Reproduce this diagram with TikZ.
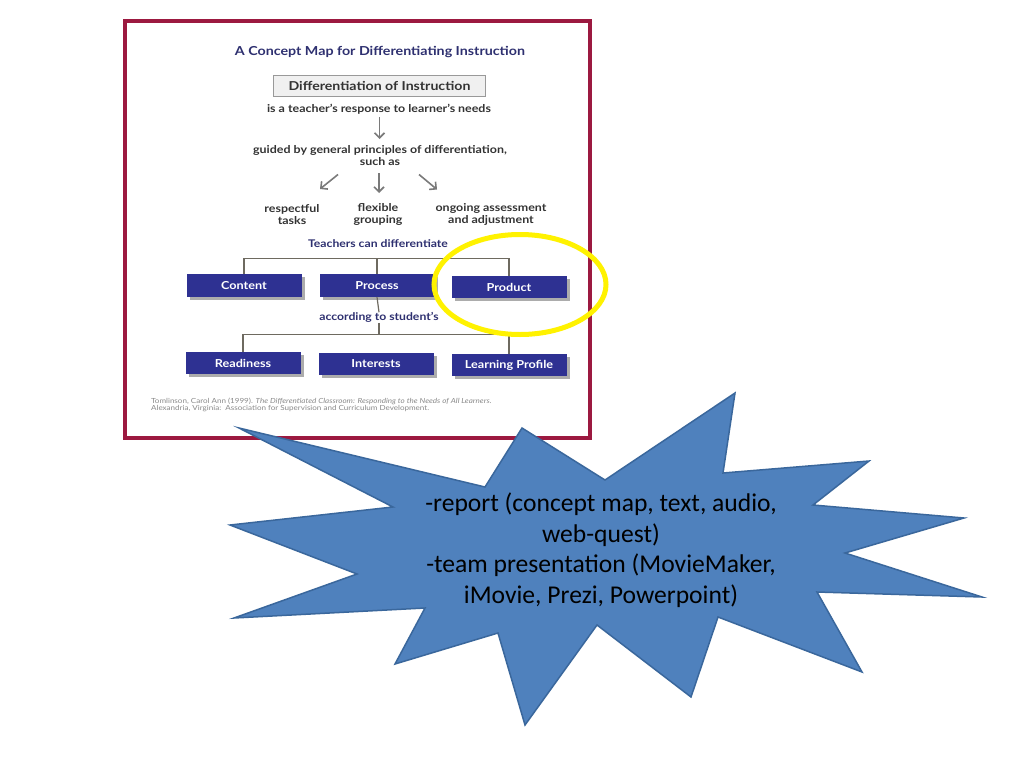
\documentclass[tikz,border=0pt]{standalone}
\usepackage{fontspec}
\setmainfont{Carlito}
\newfontfamily\gill[FakeStretch=1.15]{Lato}
\usetikzlibrary{arrows.meta,shadows}
\definecolor{framecol}{HTML}{9C1940}
\definecolor{navy}{HTML}{2E3192}
\definecolor{titlecol}{HTML}{2E3070}
\definecolor{burst}{HTML}{4F81BD}
\definecolor{burstline}{HTML}{3A679C}
\definecolor{tgray}{HTML}{333333}
\definecolor{treecol}{HTML}{6E6A60}
\definecolor{arrcol}{HTML}{7A7A7A}
\definecolor{citecol}{HTML}{8A8A8A}
\tikzset{
  maptext/.style={inner sep=0, text=tgray, font=\gill\bfseries\fontsize{10.8}{12}\selectfont, align=center},
  navytext/.style={inner sep=0, text=titlecol, font=\gill\bfseries\fontsize{10.6}{12}\selectfont, align=center},
  bluebox/.style={fill=navy, text=white, font=\gill\bfseries\fontsize{11}{12}\selectfont,
    minimum width=115, minimum height=22.5, inner sep=0,
    drop shadow={shadow xshift=3.5pt, shadow yshift=-3pt, fill=gray!65, opacity=1}},
  tree/.style={draw=treecol, line width=1.2},
  grayarrow/.style={draw=arrcol, line width=1.6, -{Straight Barb[length=5, width=10, line width=1.6]}},
}
\begin{document}
\begin{tikzpicture}[x=1pt, y=-1pt]
\useasboundingbox (0,0) rectangle (1024,768);
\fill[white] (0,0) rectangle (1024,768);

% framed picture
\draw[framecol, line width=4, fill=white] (125,21) rectangle (590,438);

\node[inner sep=0, text=titlecol, font=\gill\bfseries\fontsize{12.4}{14}\selectfont] (title) at (380,52) {A Concept Map for Differentiating Instruction};
\node[draw=gray!80, fill=gray!12, line width=0.8, minimum width=212, minimum height=21.5, inner sep=0,
      text=tgray, font=\gill\bfseries\fontsize{12.3}{13}\selectfont] (doi) at (379.5,86) {Differentiation of Instruction};
\node[maptext] (resp) at (379,109) {is a teacher’s response to learner’s needs};
\node[maptext] (guided) at (380,156) {guided by general principles of differentiation,\\such as};

\node[maptext] (resptask) at (292,214.5) {respectful\\tasks};
\node[maptext] (flex) at (378,214.5) {flexible\\grouping};
\node[maptext] (ongoing) at (491,214.5) {ongoing assessment\\and adjustment};

\node[navytext] (teach) at (378,244) {Teachers can differentiate};

\node[bluebox] (content) at (244,285.5) {Content};
\node[bluebox] (process) at (377,285.5) {Process};
\node[bluebox] (product) at (509,287) {Product};

\node[navytext] (acc) at (379,317.5) {according to student’s};

\node[bluebox] (ready) at (243,363) {Readiness};
\node[bluebox] (interest) at (376,364) {Interests};
\node[bluebox] (lprof) at (509,365) {Learning Profile};

\node[inner sep=0, anchor=west, align=left, text=citecol, font=\gill\fontsize{7}{7.4}\selectfont] (cite) at (151,405)
  {Tomlinson, Carol Ann (1999). \textit{The Differentiated Classroom: Responding to the Needs of All Learners.}\\Alexandria, Virginia:\ \ Association for Supervision and Curriculum Development.};

% arrows
\coordinate (a1s) at (379.5,117);
\coordinate (a1e) at (379.5,139);
\coordinate (a2s) at (338,174.5);
\coordinate (a2e) at (320,189);
\coordinate (a3s) at (379,173);
\coordinate (a3e) at (379,193);
\coordinate (a4s) at (419,174.5);
\coordinate (a4e) at (437,189.5);
\draw[grayarrow] (a1s) -- (a1e);
\draw[grayarrow] (a2s) -- (a2e);
\draw[grayarrow] (a3s) -- (a3e);
\draw[grayarrow] (a4s) -- (a4e);

% tree lines
\draw[tree] (content.north) -- ++(0,-15.5) -| (product.north);
\draw[tree] (process.north) -- ++(0,-15.5);
\draw[tree] (process.south) -- (acc.north);
\draw[tree] (ready.north) -- ++(0,-17) -| (lprof.north);
\draw[tree] (acc.south) -- (acc.south |- 0,335);

% yellow ellipse
\draw[yellow, line width=5] (520,284.5) ellipse [x radius=86, y radius=50];

% starburst
\filldraw[fill=burst, draw=burstline, line width=1.5, line join=miter]
  (239,428) -- (485,487) -- (522,428) -- (605,480) -- (735,393) -- (723,473) --
  (869,461) -- (813,505) -- (964,518) -- (845,553) -- (982,597) -- (817,592) --
  (862,672) -- (718,617) -- (691,697) -- (597,625) -- (525,725) -- (498,633) --
  (395,664) -- (425,608) -- (234,618) -- (357,574) -- (230,525) -- (393,507) -- cycle;
\node[inner sep=0, align=center, font=\fontsize{25.6}{30.5}\selectfont, text=black] (bursttext) at (601,550)
  {-report (concept map, text, audio,\\web-quest)\\-team presentation (MovieMaker,\\iMovie, Prezi, Powerpoint)};
\end{tikzpicture}
\end{document}
